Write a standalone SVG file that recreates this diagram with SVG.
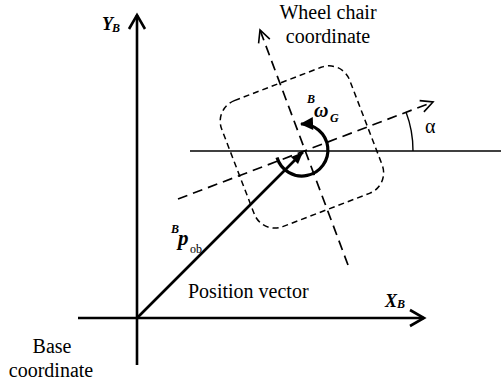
<svg xmlns="http://www.w3.org/2000/svg" width="501" height="383" viewBox="0 0 501 383">
<style>
text{font-family:"Liberation Serif","Times New Roman",serif;fill:#000}
.bi{font-weight:bold;font-style:italic}
.ax{stroke:#000;stroke-width:2.6;fill:none}
.dash{stroke:#000;stroke-width:1.7;fill:none;stroke-dasharray:10 6}
.box{stroke:#000;stroke-width:1.5;fill:none;stroke-dasharray:6 4}
.thin{stroke:#000;stroke-width:1.4;fill:none}
</style>
<defs>
<marker id="open" markerUnits="userSpaceOnUse" markerWidth="20" markerHeight="20" viewBox="-16 -10 20 20" refX="0" refY="0" orient="auto">
<path d="M-14,-8 L0,0 L-14,8" fill="none" stroke="#000" stroke-width="2.6"/>
</marker>
<marker id="openThin" markerUnits="userSpaceOnUse" markerWidth="16" markerHeight="16" viewBox="-14 -8 16 16" refX="0" refY="0" orient="auto">
<path d="M-12,-6 L0,0 L-12,6" fill="none" stroke="#000" stroke-width="1.6"/>
</marker>
<marker id="solid" markerUnits="userSpaceOnUse" markerWidth="16" markerHeight="16" viewBox="-14 -8 16 16" refX="0" refY="0" orient="auto">
<path d="M-12,-5 L0,0 L-12,5 Z" fill="#000"/>
</marker>
<marker id="solidBig" markerUnits="userSpaceOnUse" markerWidth="18" markerHeight="18" viewBox="-15 -9 18 18" refX="0" refY="0" orient="auto">
<path d="M-12,-6.5 L1,0 L-12,6.5 Z" fill="#000"/>
</marker>
</defs>
<g id="connectors">
<line id="y-axis" class="ax" x1="137" y1="365" x2="137" y2="15" marker-end="url(#open)"/>
<line id="x-axis" class="ax" x1="78" y1="318" x2="424" y2="318" marker-end="url(#open)"/>
<line id="horizon" class="thin" x1="190" y1="151" x2="501" y2="151"/>
<line id="wc-x" class="dash" x1="178" y1="199" x2="433" y2="102" marker-end="url(#openThin)"/>
<line id="wc-y" class="dash" x1="348" y1="265" x2="260" y2="30" marker-end="url(#openThin)"/>
<line id="pos-vec" class="ax" x1="137" y1="318" x2="303" y2="152" marker-end="url(#solid)"/>
<path id="alpha-arc" class="thin" d="M413,151 A109,109 0 0 0 406,112"/>
<path id="omega-arc" d="M277,157.5 A26,26 0 1 0 301,124" fill="none" stroke="#000" stroke-width="3.2" marker-end="url(#solidBig)"/>
</g>
<g id="wheelchair">
<rect class="box" x="-69" y="-72" width="137" height="135" rx="22" transform="translate(304,151) rotate(-21)"/>
</g>
<g id="labels">
<text x="328" y="19" font-size="20" text-anchor="middle">Wheel chair</text>
<text x="328" y="43" font-size="20" text-anchor="middle">coordinate</text>
<text x="52" y="353" font-size="20" text-anchor="middle">Base</text>
<text x="51" y="377" font-size="20" text-anchor="middle">coordinate</text>
<text x="188" y="298" font-size="20">Position vector</text>
<text x="425" y="133" font-size="20">α</text>
<text class="bi" x="102" y="30" font-size="18">Y</text>
<text class="bi" x="112" y="32" font-size="12">B</text>
<text class="bi" x="385" y="307" font-size="18">X</text>
<text class="bi" x="397" y="308" font-size="12">B</text>
<text class="bi" x="171" y="233" font-size="12">B</text>
<text class="bi" x="178" y="245" font-size="21">p</text>
<text x="190" y="253" font-size="12">ob</text>
<text class="bi" x="307" y="103" font-size="12">B</text>
<text class="bi" x="314" y="117" font-size="20">ω</text>
<text class="bi" x="330" y="122" font-size="12">G</text>
</g>
</svg>
